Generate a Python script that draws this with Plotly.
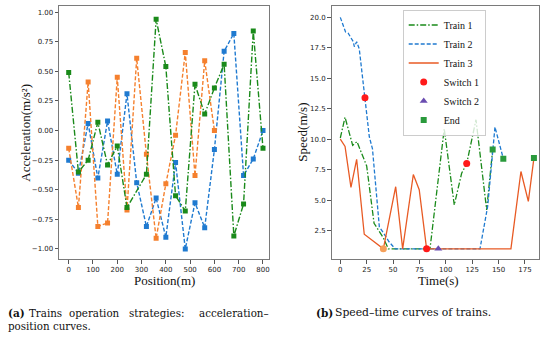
import plotly.graph_objects as go

# ---------------- Left panel: acceleration vs position ----------------
pos_train1 = [0, 40, 80, 120, 160, 200, 240, 320, 360, 400, 440, 480, 520, 560, 600, 640, 680, 720, 760, 800]
acc_train1 = [0.49, -0.35, -0.25, 0.07, -0.29, -0.13, -0.65, -0.37, 0.94, 0.54, -0.55, -0.68, 0.39, 0.14, 0.36, 0.56, -0.89, -0.62, 0.84, -0.15]

pos_train2 = [0, 40, 80, 120, 160, 200, 240, 280, 320, 360, 400, 440, 480, 520, 560, 600, 640, 680, 720, 760, 800]
acc_train2 = [-0.25, -0.36, 0.06, -0.40, 0.08, -0.37, 0.31, -0.44, -0.81, -0.57, -0.90, -0.27, -1.00, -0.61, -0.82, -0.16, 0.67, 0.82, -0.38, -0.24, 0.00]

pos_train3 = [0, 40, 80, 120, 160, 200, 240, 280, 320, 360, 400, 440, 480, 520, 560, 600]
acc_train3 = [-0.15, -0.65, 0.41, -0.81, -0.78, 0.45, -0.67, 0.61, -0.20, -0.91, -0.45, -0.04, 0.66, -0.38, 0.59, 0.00]

acc_xticks = [0, 100, 200, 300, 400, 500, 600, 700, 800]
acc_yticks = [-1.0, -0.75, -0.5, -0.25, 0.0, 0.25, 0.5, 0.75, 1.0]

# ---------------- Right panel: speed vs time ----------------
t_train1 = [0, 4.5, 11.7, 15.8, 25, 32, 40.8, 45.5, 85, 98.5, 108, 115, 119.8, 128.6, 138.7, 144.4]
v_train1 = [10.1, 11.8, 9.5, 9.8, 7.8, 3.1, 1.9, 1.0, 1.0, 10.85, 4.6, 7.2, 8.0, 11.6, 4.2, 9.15]

t_train2 = [0, 3, 5, 7.5, 9.8, 12.3, 13.3, 15.5, 18, 20.3, 23.4, 27.5, 30.5, 37, 41, 46, 52, 132.4, 139.7, 144.4, 146.6, 154.5]
v_train2 = [20.0, 19.3, 18.8, 18.7, 18.3, 18.0, 17.6, 18.0, 17.4, 15.7, 13.4, 10.2, 9.2, 2.8, 2.3, 1.6, 1.0, 1.0, 4.5, 9.15, 11.0, 8.4]

t_train3 = [0, 4.5, 10.1, 15.5, 22.7, 40.8, 52.5, 59.1, 69.2, 74.8, 81.8, 161.7, 171.2, 178.2, 183.5]
v_train3 = [10.0, 9.4, 6.05, 8.35, 2.2, 1.0, 6.1, 1.0, 7.1, 5.85, 1.0, 1.0, 7.35, 4.9, 8.45]

t_switch1 = [23.4, 81.8, 119.8]
v_switch1 = [13.4, 1.0, 8.0]
t_switch2 = [92.9]
v_switch2 = [1.0]
t_end = [144.4, 154.5, 183.5]
v_end = [9.15, 8.4, 8.45]
t_stop3 = [40.8]
v_stop3 = [1.0]

spd_xticks = [0, 25, 50, 75, 100, 125, 150, 175]
spd_yticks = [2.5, 5.0, 7.5, 10.0, 12.5, 15.0, 17.5, 20.0]

W, H = 550, 338
def px(x):
    return x / W
def py(y):
    return 1 - y / H

GREEN = "#1a8a1a"
BLUE = "#1f7ad0"
ORANGE_L = "#f5802e"
ORANGE_R = "#e85a24"
SERIF = "Liberation Serif"
DASH = "4px,2px"
DASHDOT = "6px,2px,1.5px,2px"

fig = go.Figure()

# left traces
fig.add_trace(go.Scatter(x=pos_train2, y=acc_train2, mode="lines+markers", xaxis="x", yaxis="y",
                         line=dict(color=BLUE, width=1.4, dash=DASH),
                         marker=dict(symbol="square", size=5, color=BLUE), showlegend=False))
fig.add_trace(go.Scatter(x=pos_train3, y=acc_train3, mode="lines+markers", xaxis="x", yaxis="y",
                         line=dict(color=ORANGE_L, width=1.4, dash=DASH),
                         marker=dict(symbol="square", size=5, color=ORANGE_L), showlegend=False))
fig.add_trace(go.Scatter(x=pos_train1, y=acc_train1, mode="lines+markers", xaxis="x", yaxis="y",
                         line=dict(color=GREEN, width=1.4, dash=DASHDOT),
                         marker=dict(symbol="square", size=5, color=GREEN), showlegend=False))

# right traces
fig.add_trace(go.Scatter(x=t_train1, y=v_train1, mode="lines", xaxis="x2", yaxis="y2", name="Train 1",
                         line=dict(color=GREEN, width=1.3, dash=DASHDOT)))
fig.add_trace(go.Scatter(x=t_train2, y=v_train2, mode="lines", xaxis="x2", yaxis="y2", name="Train 2",
                         line=dict(color=BLUE, width=1.3, dash=DASH)))
fig.add_trace(go.Scatter(x=t_train3, y=v_train3, mode="lines", xaxis="x2", yaxis="y2", name="Train 3",
                         line=dict(color=ORANGE_R, width=1.3)))
fig.add_trace(go.Scatter(x=t_stop3, y=v_stop3, mode="markers", xaxis="x2", yaxis="y2", showlegend=False,
                         marker=dict(symbol="circle", size=7, color="#f5a05a")))
fig.add_trace(go.Scatter(x=t_switch1, y=v_switch1, mode="markers", xaxis="x2", yaxis="y2", name="Switch 1",
                         marker=dict(symbol="circle", size=7, color="#ff1a1a")))
fig.add_trace(go.Scatter(x=t_switch2, y=v_switch2, mode="markers", xaxis="x2", yaxis="y2", name="Switch 2",
                         marker=dict(symbol="triangle-up", size=7, color="#6a4cb0")))
fig.add_trace(go.Scatter(x=t_end, y=v_end, mode="markers", xaxis="x2", yaxis="y2", name="End",
                         marker=dict(symbol="square", size=6, color="#2a9a3c")))

axis_common = dict(showline=True, mirror=True, linecolor="#7a7a7a", linewidth=1.3,
                   ticks="outside", ticklen=3.5, tickwidth=1, tickcolor="#555",
                   showgrid=False, zeroline=False,
                   tickfont=dict(family="DejaVu Sans", size=7, color="#222"))

top = 0.981
bottom = py(259.3)

fig.update_layout(
    width=W, height=H,
    margin=dict(l=0, r=0, t=0, b=0),
    paper_bgcolor="white", plot_bgcolor="white",
    xaxis=dict(domain=[px(59.3), px(269.3)], range=[-38.7, 826], tickvals=acc_xticks,
               anchor="y", **axis_common),
    yaxis=dict(domain=[bottom, top], range=[-1.087, 1.048], tickvals=acc_yticks, tickformat=".2f",
               anchor="x", **axis_common),
    xaxis2=dict(domain=[px(331.7), px(539.3)], range=[-8.15, 188.6], tickvals=spd_xticks,
                anchor="y2", **axis_common),
    yaxis2=dict(domain=[bottom, top], range=[0.14, 20.9], tickvals=spd_yticks, tickformat=".1f",
                anchor="x2", **axis_common),
    legend=dict(x=px(402.7), y=py(9.5), xanchor="left", yanchor="top",
                bgcolor="rgba(255,255,255,0.8)", bordercolor="#cccccc", borderwidth=1,
                font=dict(family=SERIF, size=10, color="#111"), tracegroupgap=0, itemwidth=30),
)

ann = []
def text(x, y, s, size=13, family=SERIF, angle=0, xanchor="center", color="#111"):
    ann.append(dict(x=px(x), y=py(y), xref="paper", yref="paper", text=s, showarrow=False,
                    font=dict(family=family, size=size, color=color), textangle=angle,
                    xanchor=xanchor, yanchor="middle", borderpad=0))

text(164.3, 280, "Position(m)")
text(438, 280, "Time(s)")
text(26, 132.7, "Acceleration(m/s²)", angle=-90)
text(303, 132.7, "Speed(m/s)", angle=-90)

CAP = "DejaVu Serif"
text(7, 312.5, "<b>(a)</b>", size=10.5, family=CAP, xanchor="left")
text(28, 312.5, "Trains", size=10.3, family=CAP, xanchor="left")
text(68, 312.5, "operation", size=10.3, family=CAP, xanchor="left")
text(128, 312.5, "strategies:", size=10.3, family=CAP, xanchor="left")
text(198, 312.5, "acceleration–", size=10.3, family=CAP, xanchor="left")
text(7, 326, "position curves.", size=10.3, family=CAP, xanchor="left")
text(315, 312.5, "<b>(b)</b>", size=10.5, family=CAP, xanchor="left")
text(334, 312.5, "Speed–time curves of trains.", size=10.8, family=CAP, xanchor="left")

fig.update_layout(annotations=ann)
fig.write_html("out.html", config={"displayModeBar": False},
               post_script="document.body.style.margin='0';document.documentElement.style.overflow='hidden';")
